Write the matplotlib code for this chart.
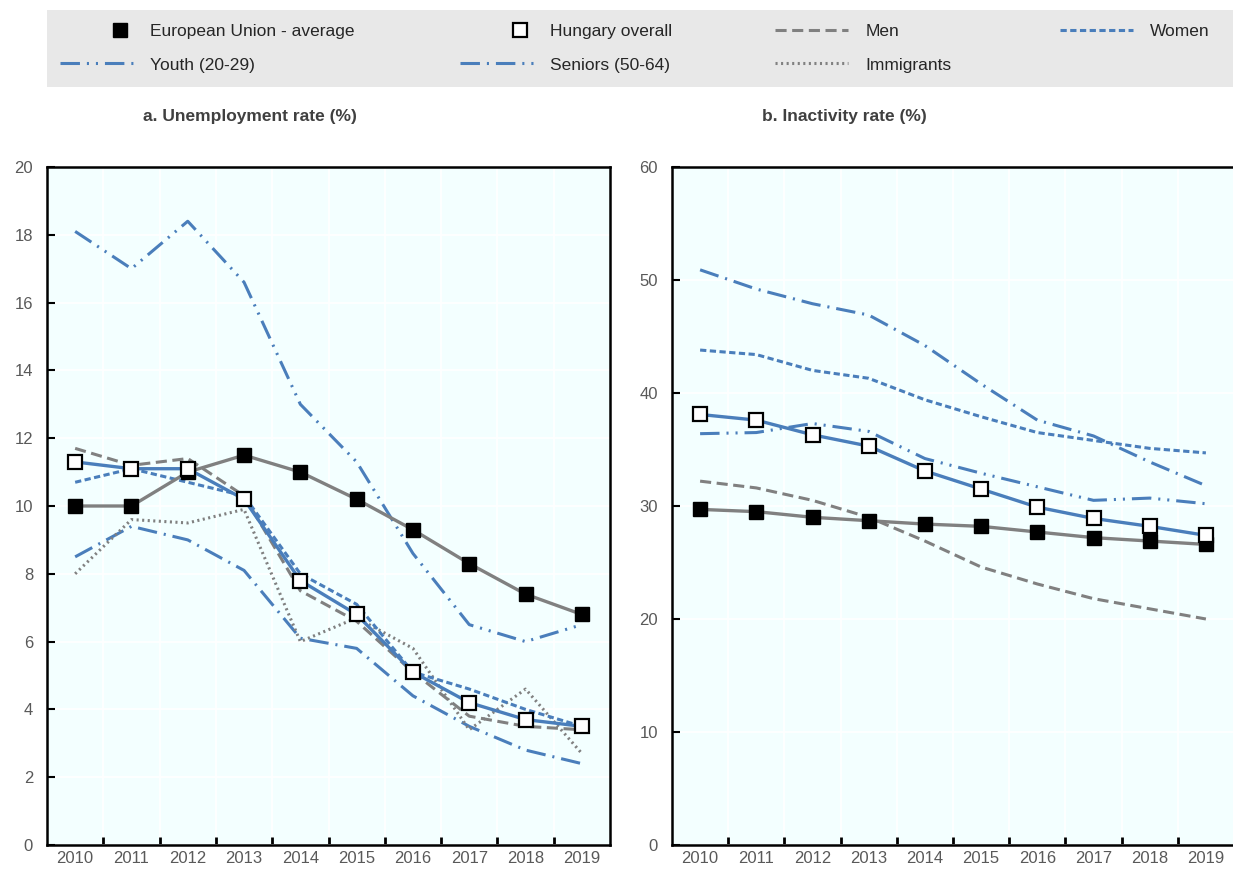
import numpy as np
import matplotlib.pyplot as plt
from matplotlib.lines import Line2D
from matplotlib.patches import Rectangle
from matplotlib.legend_handler import HandlerLine2D
from matplotlib.ticker import MultipleLocator, FixedLocator

plt.rcParams['font.family'] = ['Liberation Sans Narrow', 'Liberation Sans', 'DejaVu Sans']
plt.rcParams['lines.scale_dashes'] = False

years = ['2010', '2011', '2012', '2013', '2014', '2015', '2016', '2017', '2018', '2019']

# a. Unemployment rate (%)
unemp_eu = [10.0, 10.0, 11.0, 11.5, 11.0, 10.2, 9.3, 8.3, 7.4, 6.8]
unemp_hu = [11.3, 11.1, 11.1, 10.2, 7.8, 6.8, 5.1, 4.2, 3.7, 3.5]
unemp_men = [11.7, 11.2, 11.4, 10.3, 7.5, 6.6, 5.1, 3.8, 3.5, 3.4]
unemp_women = [10.7, 11.1, 10.7, 10.3, 8.0, 7.1, 5.1, 4.6, 4.0, 3.5]
unemp_youth = [18.1, 17.0, 18.4, 16.6, 13.0, 11.3, 8.6, 6.5, 6.0, 6.5]
unemp_seniors = [8.5, 9.4, 9.0, 8.1, 6.1, 5.8, 4.4, 3.5, 2.8, 2.4]
unemp_immig = [8.0, 9.6, 9.5, 9.9, 6.0, 6.7, 5.8, 3.4, 4.6, 2.7]

# b. Inactivity rate (%)
inact_eu = [29.7, 29.5, 29.0, 28.7, 28.4, 28.2, 27.7, 27.2, 26.9, 26.6]
inact_hu = [38.1, 37.6, 36.3, 35.3, 33.1, 31.5, 29.9, 28.9, 28.2, 27.4]
inact_men = [32.2, 31.6, 30.5, 29.0, 26.9, 24.6, 23.1, 21.8, 20.9, 20.0]
inact_women = [43.8, 43.4, 42.0, 41.3, 39.4, 37.9, 36.5, 35.8, 35.1, 34.7]
inact_youth = [36.4, 36.5, 37.3, 36.6, 34.2, 32.9, 31.7, 30.5, 30.7, 30.2]
inact_seniors = [50.9, 49.2, 47.9, 46.9, 44.2, 40.8, 37.6, 36.2, 33.9, 31.8]

BLUE = '#4a7ebb'
GRAY = '#808080'
TXT = '#595959'

style = {
    'men': dict(color=GRAY, lw=2.2, dashes=(8, 4)),
    'women': dict(color=BLUE, lw=2.2, dashes=(4.5, 2.5)),
    'youth': dict(color=BLUE, lw=2.2, dashes=(14, 5, 1.5, 5, 1.5, 5)),
    'seniors': dict(color=BLUE, lw=2.2, dashes=(14, 5, 1.5, 5)),
    'immig': dict(color=GRAY, lw=2.2, dashes=(1.5, 2.5)),
}


class RightMarker(HandlerLine2D):
    # single marker sits at the middle of xdata, so shift the span to the right
    def get_xdata(self, legend, xdescent, ydescent, width, height, fontsize):
        xd = [-xdescent + 0.64 * width, -xdescent + width]
        return xd, xd


fig = plt.figure(figsize=(12.33, 8.69), dpi=100)

# grey legend band
fig.patches.append(Rectangle((47 / 1233, 1 - 87 / 869), 1186 / 1233, 77 / 869,
                             transform=fig.transFigure, facecolor='#e8e8e8',
                             edgecolor='none', zorder=0))

ax1 = fig.add_axes([47 / 1233, 24 / 869, 563 / 1233, 678 / 869])
ax2 = fig.add_axes([672 / 1233, 24 / 869, 562 / 1233, 678 / 869])

x = np.arange(len(years))


def draw(ax, eu, hu, men, women, youth, seniors, immig=None):
    ax.plot(x, youth, **style['youth'], zorder=3)
    ax.plot(x, seniors, **style['seniors'], zorder=3)
    if immig is not None:
        ax.plot(x, immig, **style['immig'], zorder=3)
    ax.plot(x, men, **style['men'], zorder=3)
    ax.plot(x, women, **style['women'], zorder=3)
    ax.plot(x, eu, color=GRAY, lw=2.4, marker='s', ms=10, mfc='black', mec='black', zorder=4)
    ax.plot(x, hu, color=BLUE, lw=2.4, marker='s', ms=10, mfc='white', mec='black',
            mew=1.6, zorder=5)


draw(ax1, unemp_eu, unemp_hu, unemp_men, unemp_women, unemp_youth, unemp_seniors, unemp_immig)
draw(ax2, inact_eu, inact_hu, inact_men, inact_women, inact_youth, inact_seniors)

for ax, top, step in [(ax1, 20, 2), (ax2, 60, 10)]:
    ax.set_facecolor('#f3ffff')
    ax.set_xlim(-0.5, len(years) - 0.5)
    ax.set_ylim(0, top)
    ax.yaxis.set_major_locator(MultipleLocator(step))
    ax.xaxis.set_major_locator(FixedLocator(np.arange(0.5, len(years) - 1, 1)))
    ax.xaxis.set_minor_locator(FixedLocator(x))
    ax.set_xticklabels([], minor=False)
    ax.set_xticklabels(years, minor=True)
    ax.tick_params(axis='x', which='major', direction='in', length=6, width=2, color='black')
    ax.tick_params(axis='x', which='minor', length=0, labelsize=12, labelcolor=TXT, pad=4)
    ax.tick_params(axis='y', direction='in', length=6, width=1.5, labelsize=12,
                   labelcolor=TXT, pad=10)
    ax.grid(True, which='major', color='white', lw=1.3, zorder=0)
    ax.set_axisbelow(True)
    for sp in ax.spines.values():
        sp.set_linewidth(1.8)
        sp.set_color('black')

fig.text(250 / 1233, 1 - 116 / 869, 'a. Unemployment rate (%)', ha='center', va='center',
         fontsize=12.5, fontweight='bold', color='#404040')
fig.text(844 / 1233, 1 - 116 / 869, 'b. Inactivity rate (%)', ha='center', va='center',
         fontsize=12.5, fontweight='bold', color='#404040')

# legend, one column at a time
eu_h = Line2D([], [], ls='none', marker='s', ms=10, mfc='black', mec='black')
hu_h = Line2D([], [], ls='none', marker='s', ms=10, mfc='white', mec='black', mew=1.6)
cols = [
    (60, [(eu_h, 'European Union - average'),
          (Line2D([], [], **style['youth']), 'Youth (20-29)')]),
    (460, [(hu_h, 'Hungary overall'),
           (Line2D([], [], **style['seniors']), 'Seniors (50-64)')]),
    (775, [(Line2D([], [], **style['men']), 'Men'),
           (Line2D([], [], **style['immig']), 'Immigrants')]),
    (1060, [(Line2D([], [], **style['women']), 'Women')]),
]
for xl, entries in cols:
    handles = [h for h, _ in entries]
    labels = [l for _, l in entries]
    leg = fig.legend(handles, labels, loc='upper left',
                     bbox_to_anchor=(xl / 1233, 1 - 24 / 869), frameon=False,
                     fontsize=12.5, handlelength=4.2, handletextpad=1.0,
                     labelspacing=1.05, borderpad=0, borderaxespad=0, numpoints=1,
                     handler_map={eu_h: RightMarker(), hu_h: RightMarker()})
    for t in leg.get_texts():
        t.set_color('#262626')

fig.savefig('out.png', dpi=100)
